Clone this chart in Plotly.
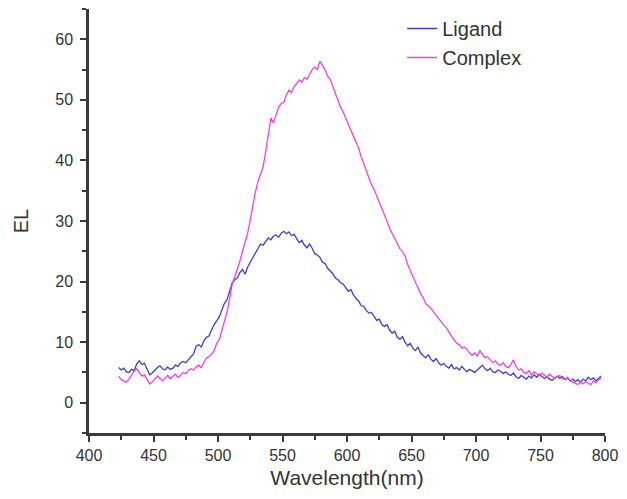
import plotly.graph_objects as go

# Wavelength grid (nm): start, step
wl_start = 423
wl_step = 2

el_ligand = [
    5.8, 5.4, 5.7, 5.1, 5.0, 5.5, 5.3, 6.4, 6.9, 6.3,          # 423-441
    6.5, 5.6, 4.6, 4.9, 5.4, 5.8, 6.1, 5.6, 5.4, 5.9,          # 443-461
    5.5, 5.7, 6.2, 6.0, 6.6, 6.8, 6.6, 7.1, 7.6, 8.0,          # 463-481
    9.3, 9.6, 9.2, 10.2, 10.8, 11.0, 12.0, 12.9, 13.5, 14.2,   # 483-501
    15.3, 16.4, 17.0, 18.5, 19.8, 20.3, 20.6, 21.5, 22.0, 21.2,  # 503-521
    22.4, 23.2, 24.0, 24.6, 25.4, 26.2, 26.0, 26.7, 27.2, 26.9,  # 523-541
    27.5, 27.7, 27.3, 28.0, 28.3, 27.9, 28.2, 27.6, 27.8, 27.1,  # 543-561
    26.4, 26.8, 26.0, 25.6, 26.2, 25.5, 24.6, 24.4, 24.0, 23.2,  # 563-581
    23.0, 22.2, 21.8, 21.3, 20.6, 20.3, 19.8, 19.6, 19.0, 18.4,  # 583-601
    18.7, 17.8, 17.2, 16.8, 16.0, 15.9, 15.2, 14.8, 14.9, 14.2,  # 603-621
    13.6, 13.8, 12.9, 12.6, 12.9, 12.0, 11.5, 11.8, 10.8, 10.5,  # 623-641
    10.9, 10.0, 9.4, 9.8, 9.0, 8.6, 9.2, 8.2, 7.8, 7.4,         # 643-661
    7.9, 7.2, 6.8, 7.3, 6.6, 6.2, 6.5, 6.0, 5.7, 6.3,           # 663-681
    5.6, 5.8, 5.4, 6.0, 5.5, 5.1, 5.5, 5.3, 5.0, 5.4,           # 683-701
    5.8, 6.2, 5.6, 5.3, 5.7, 5.1, 5.0, 5.4, 5.2, 4.8,           # 703-721
    5.1, 4.7, 4.5, 4.9, 4.3, 4.0, 4.5, 4.2, 3.9, 4.4,           # 723-741
    4.1, 4.6, 4.2, 4.7, 4.4, 4.0, 4.3, 3.9, 3.7, 4.1,           # 743-761
    4.4, 4.0, 4.3, 3.8, 4.1, 3.6, 3.9, 3.5, 3.8, 3.4,           # 763-781
    3.9, 3.6, 4.2, 3.8, 4.1, 3.6, 4.0, 4.4,                     # 783-797
]

el_complex = [
    4.4, 3.8, 3.6, 3.4, 3.9, 4.6, 5.2, 5.6, 5.0, 4.4,           # 423-441
    4.6, 3.8, 3.1, 3.4, 3.9, 4.4, 4.0, 3.6, 4.1, 4.5,           # 443-461
    4.0, 4.4, 4.7, 4.2, 4.5, 5.0, 4.8, 5.3, 5.6, 5.4,           # 463-481
    5.9, 6.2, 5.8, 6.6, 7.4, 7.6, 8.0, 8.6, 9.8, 10.4,          # 483-501
    11.8, 13.4, 15.0, 17.2, 19.6, 20.8, 22.0, 23.4, 25.0, 26.6,  # 503-521
    28.0, 30.2, 32.6, 34.8, 36.5, 37.8, 39.0, 41.5, 44.5, 47.0,  # 523-541
    46.2, 47.6, 48.8, 49.4, 49.6, 50.8, 51.6, 51.2, 52.2, 52.7,  # 543-561
    53.3, 52.9, 53.7, 53.4, 54.2, 55.0, 55.4, 55.0, 56.4, 55.8,  # 563-581
    55.0, 53.9, 53.4, 52.2, 51.0, 50.0, 48.8, 48.0, 47.0, 45.8,  # 583-601
    45.0, 44.0, 42.8, 42.0, 40.6, 39.4, 38.4, 37.2, 36.0, 35.2,  # 603-621
    34.2, 33.3, 32.2, 31.2, 30.0, 28.8, 28.0, 27.0, 26.2, 25.4,  # 623-641
    25.0, 24.2, 22.8, 21.8, 20.6, 19.9, 19.0, 18.0, 17.4, 16.4,  # 643-661
    16.0, 15.6, 15.0, 14.4, 13.8, 13.2, 12.8, 12.4, 11.6, 11.0,  # 663-681
    10.4, 9.8, 9.6, 9.0, 9.2, 8.8, 8.2, 7.8, 8.2, 7.7,          # 683-701
    8.6, 8.0, 7.4, 7.6, 7.0, 6.6, 6.9, 6.4, 6.2, 6.6,           # 703-721
    6.0, 5.8, 6.3, 7.1, 6.0, 5.4, 5.6, 5.0, 4.8, 5.3,           # 723-741
    4.6, 5.1, 4.8, 4.4, 4.9, 4.5, 4.2, 4.7, 4.4, 4.0,           # 743-761
    4.3, 4.5, 4.0, 3.8, 4.2, 3.6, 3.4, 3.2, 3.0, 3.4,           # 763-781
    3.1, 3.5, 3.2, 3.0, 3.6, 3.3, 3.8, 4.1,                     # 783-797
]

series_names = ["Ligand", "Complex"]
series_colors = ["#3d3dd0", "#f040e4"]

x_ticks = [400, 450, 500, 550, 600, 650, 700, 750, 800]
y_ticks = [0, 10, 20, 30, 40, 50, 60]

wl_ligand = [wl_start + wl_step * i for i in range(len(el_ligand))]
wl_complex = [wl_start + wl_step * i for i in range(len(el_complex))]

FONT = "Liberation Sans, Arial, sans-serif"

fig = go.Figure()
fig.add_trace(go.Scatter(x=wl_ligand, y=el_ligand, mode="lines", name=series_names[0],
                         line=dict(color=series_colors[0], width=1.3)))
fig.add_trace(go.Scatter(x=wl_complex, y=el_complex, mode="lines", name=series_names[1],
                         line=dict(color=series_colors[1], width=1.3)))

axis_common = dict(
    showline=True, linecolor="#3a3a3a", linewidth=2.5, showgrid=False, zeroline=False,
    ticks="outside", ticklen=6, tickwidth=1.5, tickcolor="#3a3a3a",
    tickfont=dict(family=FONT, size=16, color="#333"),
    mirror=False,
)
fig.update_xaxes(range=[400, 800], tickvals=x_ticks, **axis_common,
                 minor=dict(dtick=25, tick0=400, ticks="outside", ticklen=4, tickcolor="#3a3a3a", tickwidth=1.5),
                 title=dict(text="Wavelength(nm)", standoff=8,
                            font=dict(family=FONT, size=21, color="#333")))
fig.update_yaxes(range=[-5, 65], tickvals=y_ticks, **axis_common,
                 ticklabelstandoff=4,
                 minor=dict(dtick=5, tick0=0, ticks="outside", ticklen=4, tickcolor="#3a3a3a", tickwidth=1.5),
                 title=dict(text="EL", standoff=22,
                            font=dict(family=FONT, size=20, color="#333")))

fig.update_layout(
    width=627, height=499,
    margin=dict(l=89, r=14, t=9, b=66),
    paper_bgcolor="white", plot_bgcolor="white",
    showlegend=True,
    legend=dict(x=0.607, y=1.0, xanchor="left", yanchor="top", bgcolor="rgba(0,0,0,0)",
                font=dict(family=FONT, size=20, color="#333")),
)

fig.write_html("out.html")
